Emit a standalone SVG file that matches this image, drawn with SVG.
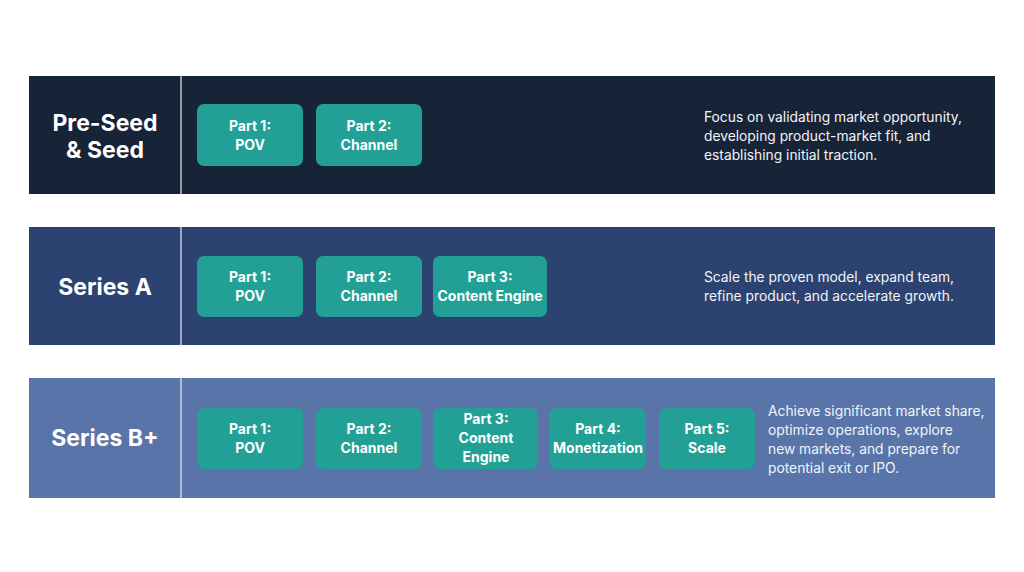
<svg xmlns="http://www.w3.org/2000/svg" width="1024" height="572" viewBox="0 0 1024 572">
<style>
text{font-family:Inter,"Liberation Sans",sans-serif;fill:#fff}
.t{font-size:23px;font-weight:700;text-anchor:middle}
.b{fill:#22a096}
.bl{font-size:14px;font-weight:700;text-anchor:middle}
.d{font-size:13.8px;fill:#f2f4f8}
.div{stroke:#e8ecf3;stroke-width:1.2}
</style>
<rect width="1024" height="572" fill="#fff"/>
<g id="band1">
<rect x="29" y="76" width="966" height="118" fill="#172337"/>
<line class="div" x1="181" y1="76" x2="181" y2="194"/>
<text class="t" x="105" y="131">Pre-Seed</text><text class="t" x="105" y="158">&amp; Seed</text>
<g id="b1p1"><rect class="b" x="197" y="104" width="106" height="62" rx="7"/><text class="bl" x="250" y="131">Part 1:</text><text class="bl" x="250" y="150">POV</text></g>
<g id="b1p2"><rect class="b" x="316" y="104" width="106" height="62" rx="7"/><text class="bl" x="369" y="131">Part 2:</text><text class="bl" x="369" y="150">Channel</text></g>
<text class="d" x="704" y="122">Focus on validating market opportunity,</text>
<text class="d" x="704" y="141">developing product-market fit, and</text>
<text class="d" x="704" y="160">establishing initial traction.</text>
</g>
<g id="band2">
<rect x="29" y="227" width="966" height="118" fill="#2c4270"/>
<line class="div" x1="181" y1="227" x2="181" y2="345"/>
<text class="t" x="105" y="295">Series A</text>
<g id="b2p1"><rect class="b" x="197" y="256" width="106" height="61" rx="7"/><text class="bl" x="250" y="282">Part 1:</text><text class="bl" x="250" y="301">POV</text></g>
<g id="b2p2"><rect class="b" x="316" y="256" width="106" height="61" rx="7"/><text class="bl" x="369" y="282">Part 2:</text><text class="bl" x="369" y="301">Channel</text></g>
<g id="b2p3"><rect class="b" x="433" y="256" width="114" height="61" rx="7"/><text class="bl" x="490" y="282">Part 3:</text><text class="bl" x="490" y="301">Content Engine</text></g>
<text class="d" x="704" y="282">Scale the proven model, expand team,</text>
<text class="d" x="704" y="301">refine product, and accelerate growth.</text>
</g>
<g id="band3">
<rect x="29" y="378" width="966" height="120" fill="#5874a8"/>
<line class="div" x1="181" y1="378" x2="181" y2="498"/>
<text class="t" x="105" y="446">Series B+</text>
<g id="b3p1"><rect class="b" x="197" y="408" width="106" height="61" rx="7"/><text class="bl" x="250" y="434">Part 1:</text><text class="bl" x="250" y="453">POV</text></g>
<g id="b3p2"><rect class="b" x="316" y="408" width="106" height="61" rx="7"/><text class="bl" x="369" y="434">Part 2:</text><text class="bl" x="369" y="453">Channel</text></g>
<g id="b3p3"><rect class="b" x="433" y="408" width="105" height="61" rx="7"/><text class="bl" x="486" y="424">Part 3:</text><text class="bl" x="486" y="443">Content</text><text class="bl" x="486" y="462">Engine</text></g>
<g id="b3p4"><rect class="b" x="549" y="408" width="97" height="61" rx="7"/><text class="bl" x="598" y="434">Part 4:</text><text class="bl" x="598" y="453">Monetization</text></g>
<g id="b3p5"><rect class="b" x="659" y="408" width="96" height="61" rx="7"/><text class="bl" x="707" y="434">Part 5:</text><text class="bl" x="707" y="453">Scale</text></g>
<text class="d" x="768" y="416">Achieve significant market share,</text>
<text class="d" x="768" y="435">optimize operations, explore</text>
<text class="d" x="768" y="454">new markets, and prepare for</text>
<text class="d" x="768" y="473">potential exit or IPO.</text>
</g>
<g id="connectors"/>
</svg>
